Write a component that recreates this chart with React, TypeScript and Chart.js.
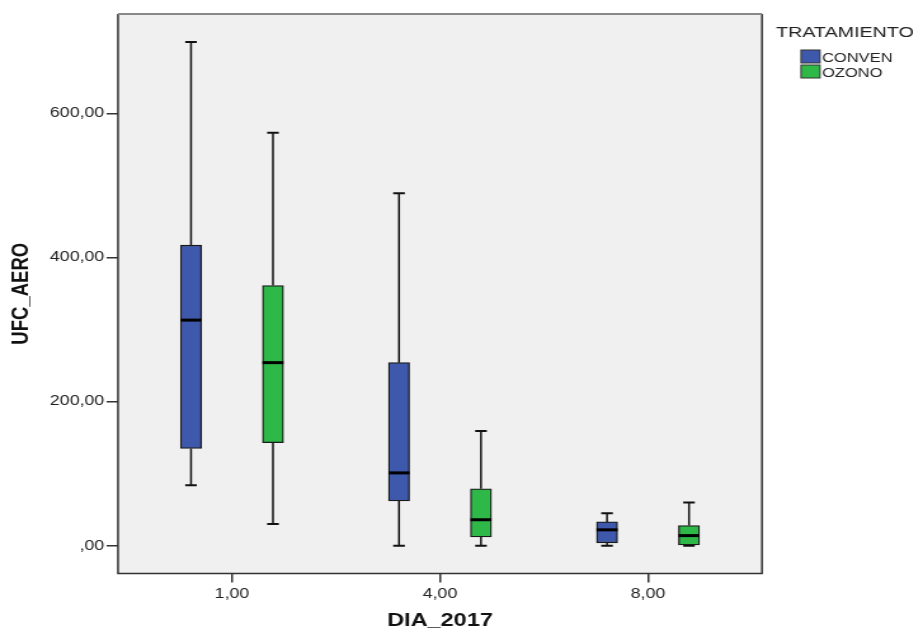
import React, { useEffect, useRef } from 'react';
import { Chart, registerables } from 'chart.js';

Chart.register(...registerables);

// ---------------- data ----------------
const categories = ['1,00', '4,00', '8,00'];
const seriesNames = ['CONVEN', 'OZONO'];

const convenMin = [84, 0, 0];
const convenQ1 = [135, 62, 4];
const convenMedian = [313, 101, 22];
const convenQ3 = [417, 254, 33];
const convenMax = [699, 489, 45];

const ozonoMin = [30, 0, 0];
const ozonoQ1 = [143, 12, 0];
const ozonoMedian = [254, 36, 14];
const ozonoQ3 = [361, 79, 28];
const ozonoMax = [573, 159, 60];

const yTickValues = [0, 200, 400, 600];
const yTickLabels = [',00', '200,00', '400,00', '600,00'];

const xTitle = 'DIA_2017';
const yTitle = 'UFC_AERO';
const legendTitle = 'TRATAMIENTO';

// ---------------- styles / layout ----------------
const colors = ['#3E58AC', '#2EB848'];
const CSS_W = 923;
const CSS_H = 633;
const CANVAS_W = 727;
const S = CSS_W / CANVAS_W; // horizontal stretch
const GROUP_OFFSET = [-0.197, 0.197];
const BAR_W = 21 / S;
const CAP_HALF = 5.8 / S;
const FONT = '"Liberation Sans", Arial, Helvetica, sans-serif';

const boxSeries = [
  { name: seriesNames[0], color: colors[0], min: convenMin, q1: convenQ1, med: convenMedian, q3: convenQ3, max: convenMax },
  { name: seriesNames[1], color: colors[1], min: ozonoMin, q1: ozonoQ1, med: ozonoMedian, q3: ozonoQ3, max: ozonoMax },
];

const boxPlugin = {
  id: 'spssBox',
  beforeDraw(chart: any) {
    const { ctx, chartArea: a } = chart;
    ctx.save();
    ctx.fillStyle = '#F0F0F0';
    ctx.fillRect(a.left, a.top, a.right - a.left, a.bottom - a.top);
    ctx.restore();
  },
  beforeDatasetsDraw(chart: any) {
    const { ctx } = chart;
    const xs = chart.scales.x;
    const ys = chart.scales.y;
    ctx.save();
    ctx.strokeStyle = '#111';
    boxSeries.forEach((s, k) => {
      categories.forEach((_, i) => {
        const xp = xs.getPixelForValue(i + GROUP_OFFSET[k]);
        const yMin = ys.getPixelForValue(s.min[i]);
        const yQ1 = ys.getPixelForValue(s.q1[i]);
        const yQ3 = ys.getPixelForValue(s.q3[i]);
        const yMax = ys.getPixelForValue(s.max[i]);
        ctx.lineWidth = 1.5;
        ctx.beginPath();
        ctx.moveTo(xp, yMax);
        ctx.lineTo(xp, yQ3);
        ctx.moveTo(xp, yQ1);
        ctx.lineTo(xp, yMin);
        ctx.stroke();
        ctx.lineWidth = 2;
        ctx.beginPath();
        ctx.moveTo(xp - CAP_HALF, yMax);
        ctx.lineTo(xp + CAP_HALF, yMax);
        ctx.moveTo(xp - CAP_HALF, yMin);
        ctx.lineTo(xp + CAP_HALF, yMin);
        ctx.stroke();
      });
    });
    ctx.restore();
  },
  afterDatasetsDraw(chart: any) {
    const { ctx } = chart;
    const xs = chart.scales.x;
    const ys = chart.scales.y;
    ctx.save();
    ctx.strokeStyle = '#000';
    ctx.lineWidth = 3;
    boxSeries.forEach((s, k) => {
      categories.forEach((_, i) => {
        const xp = xs.getPixelForValue(i + GROUP_OFFSET[k]);
        const ym = ys.getPixelForValue(s.med[i]);
        ctx.beginPath();
        ctx.moveTo(xp - BAR_W / 2, ym);
        ctx.lineTo(xp + BAR_W / 2, ym);
        ctx.stroke();
      });
    });
    ctx.restore();
  },
  afterDraw(chart: any) {
    const { ctx, chartArea: a } = chart;
    ctx.save();
    // frame
    ctx.lineWidth = 1.5;
    ctx.strokeStyle = '#333';
    ctx.beginPath();
    ctx.moveTo(a.left, a.top);
    ctx.lineTo(a.left, a.bottom);
    ctx.lineTo(a.right, a.bottom);
    ctx.lineTo(a.right, a.top);
    ctx.stroke();
    ctx.strokeStyle = '#888';
    ctx.lineWidth = 2;
    ctx.beginPath();
    ctx.moveTo(a.left, a.top);
    ctx.lineTo(a.right, a.top);
    ctx.stroke();
    // legend
    ctx.fillStyle = '#222';
    ctx.textBaseline = 'alphabetic';
    ctx.textAlign = 'left';
    ctx.font = `15.5px ${FONT}`;
    ctx.fillText(legendTitle, 776 / S, 37);
    ctx.font = `13px ${FONT}`;
    boxSeries.forEach((s, k) => {
      const top = 50 + k * 15;
      ctx.fillStyle = s.color;
      ctx.fillRect(801 / S, top, 19 / S, 13);
      ctx.strokeStyle = '#333';
      ctx.lineWidth = 1;
      ctx.strokeRect(801 / S, top, 19 / S, 13);
      ctx.fillStyle = '#222';
      ctx.fillText(s.name, 822 / S, top + 12);
    });
    ctx.restore();
  },
};

export default function App() {
  const ref = useRef<HTMLCanvasElement | null>(null);

  useEffect(() => {
    if (!ref.current) return;
    Chart.defaults.font.family = FONT;
    const datasets = boxSeries.map((s, k) => ({
      type: 'bar' as const,
      label: s.name,
      data: categories.map((_, i) => ({ x: i + GROUP_OFFSET[k], y: [s.q1[i], s.q3[i]] })),
      backgroundColor: s.color,
      borderColor: '#1a1a1a',
      borderWidth: 1.3,
      borderSkipped: false,
      barThickness: BAR_W,
      grouped: false,
    }));
    const chart = new Chart(ref.current, {
      type: 'bar',
      data: { datasets: datasets as any },
      options: {
        animation: false,
        responsive: false,
        events: [],
        layout: { padding: { left: 0, right: CANVAS_W - 762 / S, top: 14, bottom: 0 } },
        plugins: { legend: { display: false }, tooltip: { enabled: false } },
        scales: {
          x: {
            type: 'linear',
            min: -0.548,
            max: 2.548,
            offset: false,
            afterBuildTicks: (s: any) => {
              s.ticks = categories.map((_, i) => ({ value: i }));
            },
            afterFit: (s: any) => {
              s.height = CSS_H - 573.5;
            },
            ticks: {
              callback: (_v: any, i: number) => categories[i],
              font: { size: 14 },
              color: '#222',
              padding: 3,
              maxRotation: 0,
              autoSkip: false,
            },
            grid: { drawOnChartArea: false, offset: false, tickLength: 9, color: '#333', lineWidth: 1.5 },
            border: { display: false },
            title: {
              display: true,
              text: xTitle,
              font: { size: 18.5, weight: 'bold' },
              color: '#111',
              padding: { top: 0, bottom: 0.5 },
            },
          },
          y: {
            type: 'linear',
            min: -38.6,
            max: 737.8,
            afterBuildTicks: (s: any) => {
              s.ticks = yTickValues.map((v) => ({ value: v }));
            },
            afterFit: (s: any) => {
              s.width = 118 / S;
            },
            ticks: {
              callback: (_v: any, i: number) => yTickLabels[i],
              font: { size: 14 },
              color: '#222',
              padding: 1.8,
            },
            grid: { drawOnChartArea: false, tickLength: 9, color: '#333', lineWidth: 1.5 },
            border: { display: false },
            title: {
              display: true,
              text: yTitle,
              font: { size: 18.5, weight: 'bold' },
              color: '#111',
              padding: { top: 6.2, bottom: 0 },
            },
          },
        },
      },
      plugins: [boxPlugin],
    } as any);
    return () => chart.destroy();
  }, []);

  return (
    <div style={{ position: 'fixed', left: 0, top: 0, width: CSS_W, height: CSS_H, background: '#fff' }}>
      <canvas
        ref={ref}
        width={CANVAS_W}
        height={CSS_H}
        style={{ width: `${CSS_W}px`, height: `${CSS_H}px`, display: 'block' }}
      />
    </div>
  );
}
